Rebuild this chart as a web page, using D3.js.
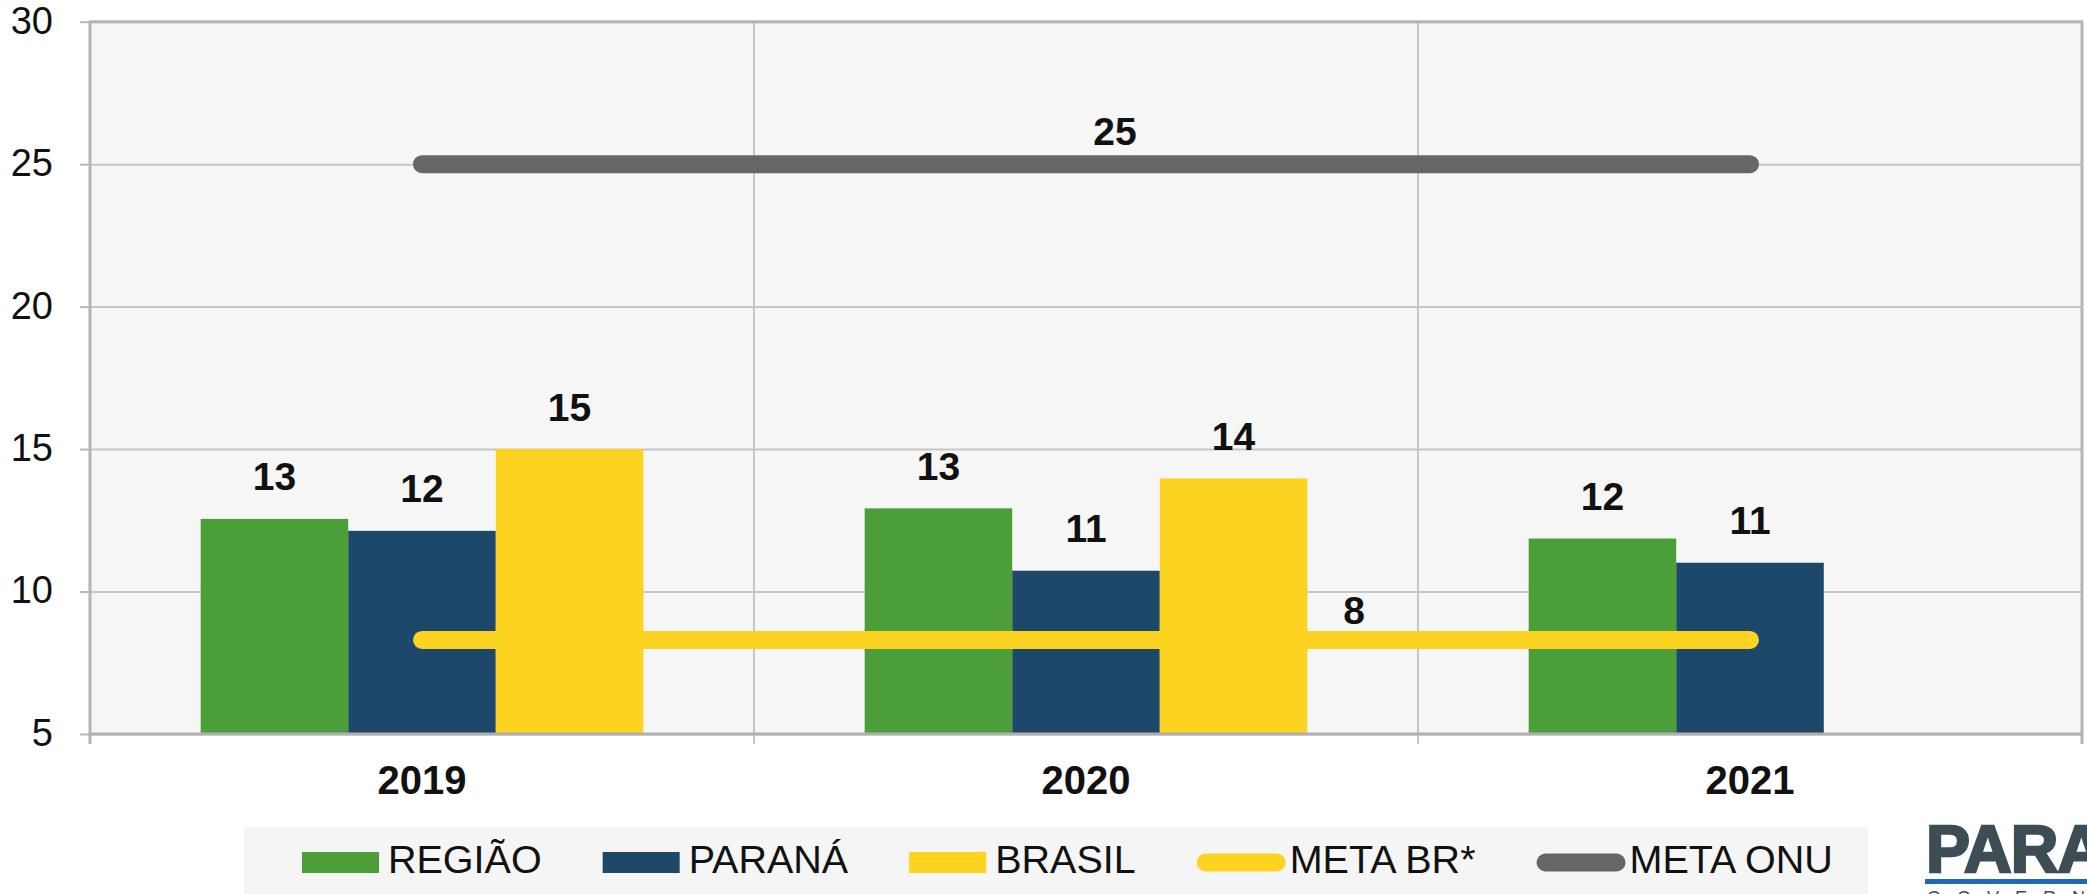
<!DOCTYPE html>
<html>
<head>
<meta charset="utf-8">
<script src="https://cdn.jsdelivr.net/npm/d3@7"></script>
<style>
  body { margin: 0; background: #fff; }
  svg { display: block; font-family: "Liberation Sans", Arial, sans-serif; }
</style>
</head>
<body>
<div id="chart"></div>
<script>
// dados
const years = ['2019', '2020', '2021'];
const barSeries = ['REGIÃO', 'PARANÁ', 'BRASIL'];
const regiao = [12.55, 12.92, 11.86];
const parana = [12.13, 10.73, 11.01];
const brasil = [15.0, 13.97, null];
const metaBr = [8.3, 8.3, 8.3];
const metaOnu = [25, 25, 25];
const yTicks = [5, 10, 15, 20, 25, 30];
const legendNames = ['REGIÃO', 'PARANÁ', 'BRASIL', 'META BR*', 'META ONU'];

const colors = {
    'REGIÃO': '#4c9e39',
    'PARANÁ': '#1d4869',
    'BRASIL': '#fdd321',
    'META BR*': '#fdd321',
    'META ONU': '#666666'
};

const W = 2087, H = 894;
const plot = { left: 90, right: 2082, top: 21.7, bottom: 734 };

const svg = d3.select('#chart').append('svg')
    .attr('width', W)
    .attr('height', H);

// escalas
const x0 = d3.scaleBand().domain(years).range([plot.left, plot.right]).padding(0);
const bw = x0.bandwidth();
const x1 = d3.scaleBand().domain(barSeries).range([bw / 6, bw * 5 / 6]).padding(0);
const y = d3.scaleLinear().domain([5, 30]).range([plot.bottom, plot.top]);

// fundo da área
svg.append('rect')
    .attr('x', plot.left).attr('y', plot.top)
    .attr('width', plot.right - plot.left)
    .attr('height', plot.bottom - plot.top)
    .attr('fill', '#f6f6f6');

// grade horizontal + rótulos do eixo y
const yAxis = svg.append('g')
    .attr('transform', `translate(${plot.left},0)`)
    .call(d3.axisLeft(y).tickValues(yTicks).tickSize(10).tickPadding(27));
yAxis.select('.domain').remove();
yAxis.selectAll('.tick line').attr('stroke', '#b8b8b8').attr('stroke-width', 2);
yAxis.selectAll('.tick text')
    .attr('font-size', 38)
    .attr('fill', '#111')
    .attr('dy', '0.3em');

svg.append('g')
    .attr('transform', `translate(${plot.left},0)`)
    .call(d3.axisLeft(y).tickValues(yTicks).tickSize(-(plot.right - plot.left)).tickFormat(''))
    .call(g => g.select('.domain').remove())
    .selectAll('.tick line')
    .attr('stroke', '#c6c6c6')
    .attr('stroke-width', 2);

// divisões verticais entre categorias
const bounds = years.map(d => x0(d)).concat([plot.right]);
svg.append('g').selectAll('line')
    .data(bounds)
    .join('line')
    .attr('x1', d => d).attr('x2', d => d)
    .attr('y1', plot.top).attr('y2', plot.bottom + 10)
    .attr('stroke', (d, i) => (i === 0 || i === bounds.length - 1) ? '#b4b4b4' : '#c6c6c6')
    .attr('stroke-width', (d, i) => (i === 0 || i === bounds.length - 1) ? 3 : 2);

// borda superior
svg.append('line')
    .attr('x1', plot.left - 1).attr('x2', plot.right + 1)
    .attr('y1', plot.top).attr('y2', plot.top)
    .attr('stroke', '#b4b4b4').attr('stroke-width', 3);

// barras
const barData = years.map((yr, i) => ({
    year: yr,
    values: [
        { key: 'REGIÃO', value: regiao[i] },
        { key: 'PARANÁ', value: parana[i] },
        { key: 'BRASIL', value: brasil[i] }
    ].filter(d => d.value != null)
}));

const groups = svg.append('g').selectAll('g')
    .data(barData)
    .join('g')
    .attr('transform', d => `translate(${x0(d.year)},0)`);

groups.selectAll('rect')
    .data(d => d.values)
    .join('rect')
    .attr('x', d => x1(d.key))
    .attr('y', d => y(d.value))
    .attr('width', x1.bandwidth())
    .attr('height', d => plot.bottom - y(d.value))
    .attr('fill', d => colors[d.key]);

groups.selectAll('text')
    .data(d => d.values)
    .join('text')
    .attr('x', d => x1(d.key) + x1.bandwidth() / 2)
    .attr('y', d => y(d.value) - 28.5)
    .attr('text-anchor', 'middle')
    .attr('font-size', 39)
    .attr('font-weight', 'bold')
    .attr('fill', '#111')
    .text(d => Math.round(d.value));

// eixo inferior
svg.append('line')
    .attr('x1', plot.left - 1).attr('x2', plot.right + 1)
    .attr('y1', plot.bottom).attr('y2', plot.bottom)
    .attr('stroke', '#b0b0b0').attr('stroke-width', 3);

// linhas de meta
const line = d3.line()
    .x((d, i) => x0(years[i]) + bw / 2)
    .y(d => y(d));

const metaLines = [
    { name: 'META BR*', values: metaBr, labelDx: 268, labelDy: -16 },
    { name: 'META ONU', values: metaOnu, labelDx: 29, labelDy: -19 }
];

svg.append('g').selectAll('path')
    .data(metaLines)
    .join('path')
    .attr('d', d => line(d.values))
    .attr('fill', 'none')
    .attr('stroke', d => colors[d.name])
    .attr('stroke-width', 18)
    .attr('stroke-linecap', 'round');

svg.append('g').selectAll('text')
    .data(metaLines)
    .join('text')
    .attr('x', d => x0(years[1]) + bw / 2 + d.labelDx)
    .attr('y', d => y(d.values[1]) + d.labelDy)
    .attr('text-anchor', 'middle')
    .attr('font-size', 39)
    .attr('font-weight', 'bold')
    .attr('fill', '#111')
    .text(d => Math.round(d.values[1]));

// rótulos das categorias
svg.append('g').selectAll('text')
    .data(years)
    .join('text')
    .attr('x', d => x0(d) + bw / 2)
    .attr('y', plot.bottom + 60)
    .attr('text-anchor', 'middle')
    .attr('font-size', 40)
    .attr('font-weight', 'bold')
    .attr('fill', '#111')
    .text(d => d);

// legenda
svg.append('rect')
    .attr('x', 244).attr('y', 827)
    .attr('width', 1868 - 244).attr('height', 80)
    .attr('fill', '#f5f5f5');

const legend = svg.append('g');
let lx = 302;
const ly = 862.5;
legendNames.forEach(name => {
    const isLine = name.startsWith('META');
    const item = legend.append('g');
    let tx;
    if (isLine) {
        item.append('line')
            .attr('x1', lx + 9).attr('x2', lx + 80)
            .attr('y1', ly).attr('y2', ly)
            .attr('stroke', colors[name])
            .attr('stroke-width', 18)
            .attr('stroke-linecap', 'round');
        tx = lx + 93;
    } else {
        item.append('rect')
            .attr('x', lx).attr('y', ly - 10.5)
            .attr('width', 77).attr('height', 21)
            .attr('fill', colors[name]);
        tx = lx + 86;
    }
    const t = item.append('text')
        .attr('x', tx)
        .attr('y', ly + 10.5)
        .attr('font-size', 39.5)
        .attr('fill', '#111')
        .text(name);
    lx = tx + t.node().getComputedTextLength() + 61;
});

// logotipo
const logo = svg.append('g');
logo.append('text')
    .attr('x', 1926).attr('y', 872)
    .attr('font-size', 66)
    .attr('font-weight', 900)
    .attr('letter-spacing', -1)
    .attr('fill', '#3d4d55')
    .attr('stroke', '#3d4d55')
    .attr('stroke-width', 2.5)
    .text('PARANÁ');
logo.append('rect')
    .attr('x', 1925).attr('y', 879)
    .attr('width', 200).attr('height', 5)
    .attr('fill', '#1c6bb4');
logo.append('text')
    .attr('x', 1927).attr('y', 904)
    .attr('font-size', 18)
    .attr('letter-spacing', 16)
    .attr('fill', '#3d4d55')
    .text('GOVERNO');
</script>
</body>
</html>
